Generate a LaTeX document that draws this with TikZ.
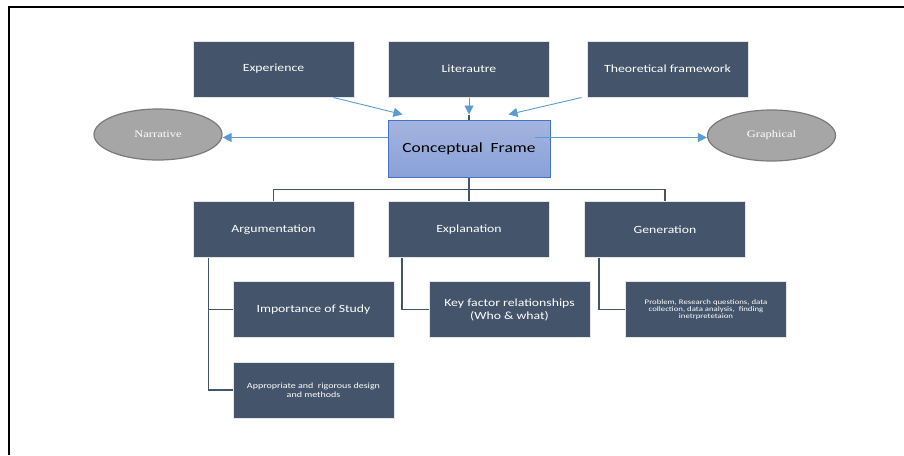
\documentclass[tikz,border=0pt]{standalone}
\usepackage{fontspec}
\setmainfont[FakeStretch=1.25]{Carlito}
\newfontfamily\ellfont[FakeStretch=1.25]{Liberation Serif}
\usetikzlibrary{arrows.meta,calc,shapes.geometric}

\definecolor{slate}{HTML}{44546A}
\definecolor{flowblue}{HTML}{5B9BD5}
\definecolor{cftop}{HTML}{A5B4DF}
\definecolor{cfbot}{HTML}{88A1D8}
\definecolor{cfline}{HTML}{4472C4}
\definecolor{ellfill}{HTML}{A6A6A6}
\definecolor{elldraw}{HTML}{7A7A7A}

\begin{document}
\begin{tikzpicture}[x=1pt,y=-1pt,every node/.style={align=center}]

\tikzstyle{block}=[rectangle,fill=slate,draw=gray!20,line width=1pt,text=white,minimum width=161pt,minimum height=56pt,font=\fontsize{11}{13}\selectfont];
\tikzstyle{frame}=[rectangle,top color=cftop,bottom color=cfbot,draw=cfline,line width=1pt,minimum width=162pt,minimum height=57pt,font=\fontsize{14}{16}\selectfont];
\tikzstyle{oval}=[ellipse,fill=ellfill,draw=elldraw,line width=1.2pt,text=white,minimum width=128pt,minimum height=51pt,font=\ellfont\fontsize{10}{12}\selectfont];
\tikzstyle{flow}=[draw=flowblue,line width=0.9pt,-{Triangle[length=9pt,width=9pt]}];
\tikzstyle{tree}=[draw=slate,line width=1.4pt];

\useasboundingbox (0,0) rectangle (904,455);
\draw[line width=1.6pt] (9,455) -- (9,7) -- (904,7);

\node[block] (exp) at (273.5,69) {Experience};
\node[block] (lit) at (469,69) {Literautre};
\node[block] (theo) at (667.5,69) {Theoretical framework};

\node[frame] (cf) at (469,148.5) {Conceptual~~Frame};
\node[oval] (nar) at (158,134.5) {Narrative};
\node[oval] (gra) at (771.5,135.5) {Graphical};

\node[block] (arg) at (273.5,229.5) {Argumentation};
\node[block] (expl) at (469,229.5) {Explanation};
\node[block] (gen) at (665,229.5) {Generation};

\node[block] (imp) at (313.5,309.5) {Importance of Study};
\node[block] (key) at (509.5,309.5) {Key factor relationships\\(Who \& what)};
\node[block,font=\fontsize{7}{7.2}\selectfont] (prob) at (706,309.5) {Problem, Research questions, data\\collection, data analysis,~~finding\\inetrpretetaion};
\node[block,font=\fontsize{8}{9}\selectfont] (app) at (313.5,390) {Appropriate and~~rigorous design\\and methods};

\coordinate (ltip) at ([yshift=5pt]cf.north);
\coordinate (nl) at ([yshift=11pt]cf.west);
\coordinate (gr) at ([xshift=-16pt,yshift=11pt]cf.east);
\coordinate (bus) at ($(cf.south)!0.5!(expl.north)$);
\coordinate (av) at ([xshift=16pt]arg.south west);

\draw[flow] ([xshift=-21pt]exp.south east) -- ([xshift=15pt,yshift=5pt]cf.north west);
\draw[flow] (lit.south) -- (ltip);
\draw[tree] (ltip) -- (cf.north);
\draw[flow] ([xshift=-5pt]theo.south west) -- ([xshift=-42pt,yshift=5pt]cf.north east);
\draw[flow] (nl) -- (nl -| nar.east);
\draw[flow] (gr) -- (gr -| gra.west);

\draw[tree] (cf.south) -- (expl.north);
\draw[tree] (arg.north) |- (bus) -| (gen.north);
\draw[tree] (av) |- (app.west);
\draw[tree] (av |- imp.west) -- (imp.west);
\draw[tree] ([xshift=14pt]expl.south west) |- (key.west);
\draw[tree] ([xshift=15pt]gen.south west) |- (prob.west);

\end{tikzpicture}
\end{document}
